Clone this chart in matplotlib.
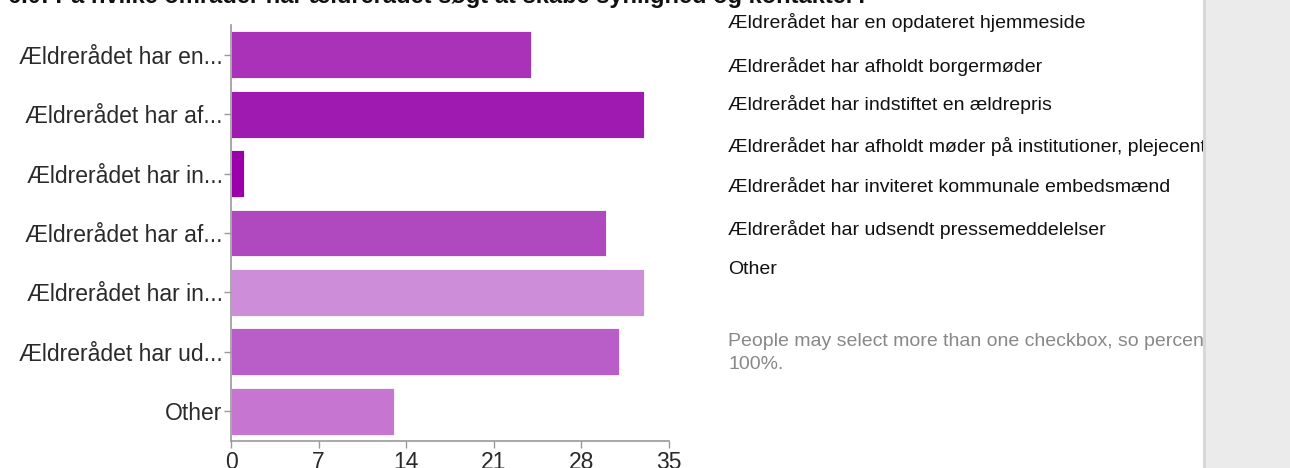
import matplotlib.pyplot as plt
from matplotlib.patches import Rectangle

plt.rcParams['font.family'] = ['Liberation Sans', 'DejaVu Sans']

title = "6.0: På hvilke områder har ældrerådet søgt at skabe synlighed og kontakter?"
short_labels = ["Ældrerådet har en...", "Ældrerådet har af...", "Ældrerådet har in...",
                "Ældrerådet har af...", "Ældrerådet har in...", "Ældrerådet har ud...", "Other"]
full_labels = ["Ældrerådet har en opdateret hjemmeside",
               "Ældrerådet har afholdt borgermøder",
               "Ældrerådet har indstiftet en ældrepris",
               "Ældrerådet har afholdt møder på institutioner, plejecentre m.v.",
               "Ældrerådet har inviteret kommunale embedsmænd",
               "Ældrerådet har udsendt pressemeddelelser",
               "Other"]
counts = [24, 33, 1, 30, 33, 31, 13]
bar_colors = ["#a932b9", "#9e1ab1", "#9900aa", "#b048c0", "#ce8dd8", "#b95dc9", "#c675d0"]
xticks = [0, 7, 14, 21, 28, 35]
note = "People may select more than one checkbox, so percentages may add up to more than\n100%."

W, H = 1290, 468
fig = plt.figure(figsize=(W / 100, H / 100), dpi=100)
ax = fig.add_axes([231 / W, 1 - 441 / H, 438 / W, 416 / H])

ypos = range(len(counts))
ax.barh(ypos, counts, height=0.79, color=bar_colors, edgecolor='white', linewidth=0.6)
ax.set_ylim(len(counts) - 0.5, -0.5)
ax.set_xlim(0, 35)
ax.set_yticks(list(ypos))
ax.set_yticklabels(short_labels)
ax.set_xticks(xticks)
ax.set_xticklabels([str(t) for t in xticks])
ax.tick_params(axis='both', colors='#999999', labelcolor='#2a2a2a', labelsize=16.5,
               length=5, width=1)
ax.tick_params(axis='x', pad=2)
ax.tick_params(axis='y', pad=1)
for side in ['top', 'right']:
    ax.spines[side].set_visible(False)
for side in ['left', 'bottom']:
    ax.spines[side].set_color('#999999')
    ax.spines[side].set_linewidth(1.2)

# question title, mostly above the top edge
fig.text(8 / W, 1 - 2.5 / H, title, fontsize=17, fontweight='bold', va='baseline',
         ha='left', color='#111111')

# category list on the right
row_y = [23, 66, 105, 146, 188, 229, 270]
for lab, y in zip(full_labels, row_y):
    fig.text(728 / W, 1 - y / H, lab, fontsize=14, va='center', ha='left',
             color='#111111', zorder=1)
fig.text(728 / W, 1 - 333 / H, note, fontsize=14, va='top', ha='left',
         color='#888888', linespacing=1.45, zorder=1)

# grey side panel
fig.patches.append(Rectangle((1206 / W, 0), (W - 1206) / W, 1, transform=fig.transFigure,
                             facecolor='#ebebeb', edgecolor='none', zorder=5))
fig.patches.append(Rectangle((1203 / W, 0), 3 / W, 1, transform=fig.transFigure,
                             facecolor='#d8d8d8', edgecolor='none', zorder=5))

fig.savefig("out.png", dpi=100)
